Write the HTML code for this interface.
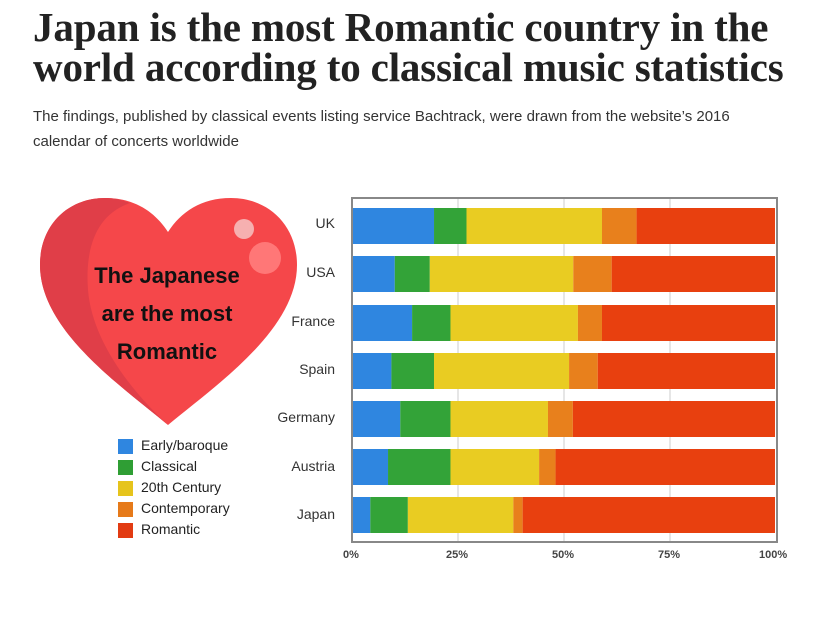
<!DOCTYPE html>
<html><head><meta charset="utf-8"><style>
body{margin:0;width:820px;height:617px;background:#fff;overflow:hidden;position:relative;font-family:"Liberation Sans",sans-serif}
h1{position:absolute;left:33px;top:7px;margin:0;font-family:"Liberation Serif",serif;font-weight:bold;font-size:41px;line-height:40px;color:#222;letter-spacing:-0.15px}
p{position:absolute;left:33px;top:104px;margin:0;font-size:15px;line-height:25px;color:#333;width:740px}
.lab{position:absolute;font-size:14px;color:#333;text-align:right;width:80px}
.ax{position:absolute;top:549px;font-size:11px;color:#444;font-weight:bold}
.lg{position:absolute;left:118px;font-size:14px;color:#222}
.sw{position:absolute;left:118px;width:15px;height:15px}
</style></head><body>
<h1>Japan is the most Romantic country in the<br>world according to classical music statistics</h1>
<p>The findings, published by classical events listing service Bachtrack, were drawn from the website’s 2016 calendar of concerts worldwide</p>
<svg width="820" height="617" style="position:absolute;left:0;top:0" xmlns="http://www.w3.org/2000/svg">
<path d="M168 425 C120 385 40 330 40 265 C40 225 68 198 105 198 C135 198 155 212 168 232 C181 212 201 198 231 198 C268 198 297 225 297 265 C297 330 216 385 168 425Z" fill="#f5474a"/>
<path d="M168 425 C120 385 40 330 40 265 C40 225 68 198 105 198 C115 198 122 200 130 203 C95 215 85 250 88 290 C92 340 130 390 168 425Z" fill="#e03e48"/>
<circle cx="244" cy="229" r="10" fill="#f6b0b0"/>
<circle cx="265" cy="258" r="16" fill="#f77"/>
<text x="167" y="283" text-anchor="middle" font-family="Liberation Sans,sans-serif" font-weight="bold" font-size="22" fill="#111">The Japanese</text>
<text x="167" y="321" text-anchor="middle" font-family="Liberation Sans,sans-serif" font-weight="bold" font-size="22" fill="#111">are the most</text>
<text x="167" y="359" text-anchor="middle" font-family="Liberation Sans,sans-serif" font-weight="bold" font-size="22" fill="#111">Romantic</text>
<rect x="352" y="198" width="425" height="344" fill="#fff" stroke="#888" stroke-width="2"/>
<g stroke="#ccc" stroke-width="1"><line x1="458" y1="199" x2="458" y2="541"/><line x1="564" y1="199" x2="564" y2="541"/><line x1="670" y1="199" x2="670" y2="541"/></g>
<g id="bars"></g>
</svg>
<div class="lab" style="left:255px;top:215px">UK</div>
<div class="lab" style="left:255px;top:264px">USA</div>
<div class="lab" style="left:255px;top:313px">France</div>
<div class="lab" style="left:255px;top:361px">Spain</div>
<div class="lab" style="left:255px;top:409px">Germany</div>
<div class="lab" style="left:255px;top:458px">Austria</div>
<div class="lab" style="left:255px;top:506px">Japan</div>
<div class="ax" style="left:343px">0%</div>
<div class="ax" style="left:446px">25%</div>
<div class="ax" style="left:552px">50%</div>
<div class="ax" style="left:658px">75%</div>
<div class="ax" style="left:759px">100%</div>
<div class="sw" style="top:439px;background:#2f86e0"></div><div class="lg" style="left:141px;top:437px">Early/baroque</div>
<div class="sw" style="top:460px;background:#2f9e34"></div><div class="lg" style="left:141px;top:458px">Classical</div>
<div class="sw" style="top:481px;background:#e6c41c"></div><div class="lg" style="left:141px;top:479px">20th Century</div>
<div class="sw" style="top:502px;background:#e67a1a"></div><div class="lg" style="left:141px;top:500px">Contemporary</div>
<div class="sw" style="top:523px;background:#e23b12"></div><div class="lg" style="left:141px;top:521px">Romantic</div>
<script>
var d=[[208,19.2,26.9,59,67.2],[256,9.9,18.2,52.2,61.3],[305,14,23.1,53.3,59],[353,9.1,19.2,51.2,58],[401,11.2,23.1,46.2,52.1],[449,8.3,23.1,44.1,48],[497,4.1,13,38,40.2]];
var c=["#2f86e0","#33a338","#e9cc22","#e8801c","#e8400f"];var g=document.getElementById("bars"),s="";
d.forEach(function(r){var p=[0,r[1],r[2],r[3],r[4],100];for(var i=0;i<5;i++){var x0=353+p[i]*4.22,x1=353+p[i+1]*4.22;s+='<rect x="'+x0+'" y="'+r[0]+'" width="'+(x1-x0)+'" height="36" fill="'+c[i]+'"/>';}});
g.innerHTML=s;
</script>
</body></html>
